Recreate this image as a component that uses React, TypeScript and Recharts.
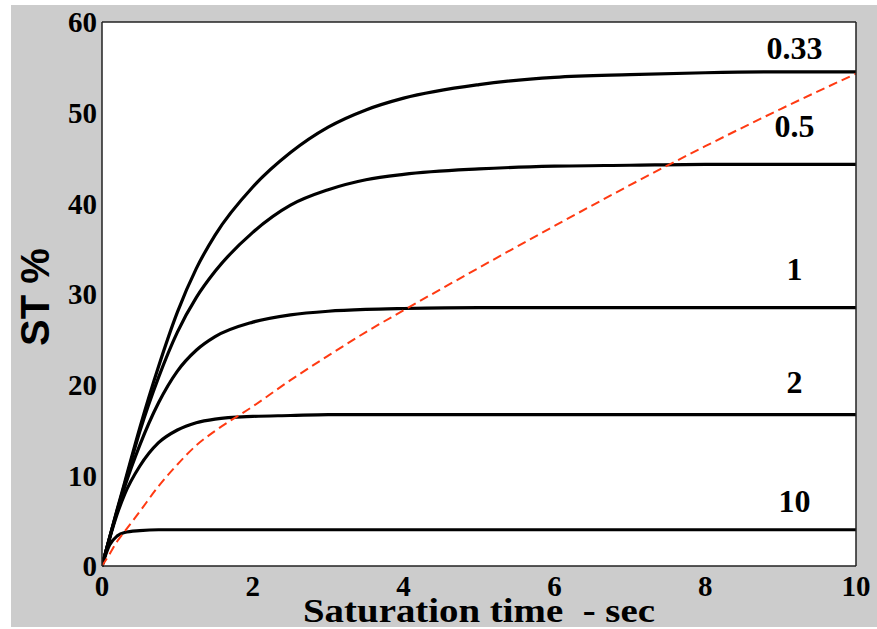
import React from 'react';
import {
    LineChart, Line, XAxis, YAxis, CartesianGrid, LabelList, Label
} from 'recharts';

// saturation time (sec)
const times = [0, 0.1, 0.2, 0.3, 0.5, 0.75, 1, 1.25, 1.5, 2, 2.5, 3, 3.5, 4, 5, 6, 7, 8, 9, 10];

// ST % for each ratio
const st033 = [0, 3.1, 6.2, 9.2, 15.2, 22.0, 28.0, 32.8, 36.5, 41.8, 45.6, 48.4, 50.3, 51.6, 53.1, 53.9, 54.2, 54.4, 54.5, 54.5];
const st05 = [0, 3.1, 6.1, 9.0, 14.8, 20.8, 25.8, 29.6, 32.5, 36.8, 39.8, 41.5, 42.6, 43.2, 43.8, 44.1, 44.2, 44.3, 44.3, 44.3];
const st1 = [0, 3.1, 6.0, 8.7, 13.3, 18.0, 21.5, 23.8, 25.3, 26.9, 27.7, 28.1, 28.3, 28.4, 28.5, 28.5, 28.5, 28.5, 28.5, 28.5];
const st2 = [0, 3.0, 5.7, 7.9, 11.0, 13.6, 15.0, 15.8, 16.2, 16.5, 16.6, 16.7, 16.7, 16.7, 16.7, 16.7, 16.7, 16.7, 16.7, 16.7];
const st10 = [0, 2.3, 3.3, 3.7, 3.9, 4.0, 4.0, 4.0, 4.0, 4.0, 4.0, 4.0, 4.0, 4.0, 4.0, 4.0, 4.0, 4.0, 4.0, 4.0];
const envelope = [0, 1.3, 2.7, 3.8, 6.0, 8.8, 11.2, 13.3, 14.9, 17.6, 20.5, 23.2, 25.8, 28.2, 32.9, 37.5, 42.0, 46.3, 50.4, 54.3];

const seriesKeys = ['s033', 's05', 's1', 's2', 's10'];
const seriesNames = ['0.33', '0.5', '1', '2', '10'];
const seriesValues = [st033, st05, st1, st2, st10];

const xTicks = [0, 2, 4, 6, 8, 10];
const yTicks = [0, 10, 20, 30, 40, 50, 60];

const data = times.map((t, i) => {
    const row: Record<string, number> = { t, env: envelope[i] };
    seriesKeys.forEach((k, j) => { row[k] = seriesValues[j][i]; });
    return row;
});

const serif = '"Times New Roman", "Liberation Serif", serif';
const tickStyle = { fontFamily: serif, fontWeight: 700, fontSize: 29, fill: '#000' };
const borderColor = '#222';

// label offsets above each curve (px)
const labelLift = [13, 27, 28, 22, 18];
const labelIndex = 18;

const curveLabel = (name: string, lift: number) => (props: any) => {
    const { x, y, index } = props;
    if (index !== labelIndex) return null;
    return (
        <text x={x + 14} y={y - lift} textAnchor="middle" fontFamily={serif}
            fontWeight={700} fontSize={32} fill="#000">{name}</text>
    );
};

export default function App() {
    return (
        <div style={{ position: 'absolute', left: 0, top: 0, width: 877, height: 629, background: '#fff' }}>
            <div style={{ position: 'absolute', left: 11, top: 5, width: 866, height: 622, background: '#cccccc' }} />
            <div style={{ position: 'absolute', left: 0, top: 0 }}>
                <LineChart width={877} height={629} data={data}
                    margin={{ top: 22, right: 21, bottom: 23, left: 42 }}>
                    <CartesianGrid horizontal={false} vertical={false} fill="#ffffff" stroke="none"
                        xAxisId="b" yAxisId="l" />
                    <XAxis xAxisId="b" dataKey="t" type="number" domain={[0, 10]} ticks={xTicks}
                        orientation="bottom" height={40} tickSize={0} tickMargin={9} tickLine={false}
                        axisLine={{ stroke: borderColor, strokeWidth: 1.5 }} tick={tickStyle}
                        allowDataOverflow>
                        <Label content={(p: any) => {
                            const vb = p.viewBox;
                            return (
                                <text x={vb.x + vb.width / 2} y={622} textAnchor="middle" fontFamily={serif}
                                    fontWeight={700} fontSize={33} fill="#000" xmlSpace="preserve"
                                    textLength={352} lengthAdjust="spacingAndGlyphs">Saturation time  - sec</text>
                            );
                        }} />
                    </XAxis>
                    <XAxis xAxisId="bm" dataKey="t" type="number" domain={[0, 10]} ticks={xTicks}
                        orientation="bottom" mirror tick={false} tickSize={7} axisLine={false}
                        tickLine={{ stroke: borderColor, strokeWidth: 1.2 }} />
                    <XAxis xAxisId="tm" dataKey="t" type="number" domain={[0, 10]} ticks={xTicks}
                        orientation="top" mirror tick={false} tickSize={7}
                        axisLine={{ stroke: borderColor, strokeWidth: 1.5 }}
                        tickLine={{ stroke: borderColor, strokeWidth: 1.2 }} />
                    <YAxis yAxisId="l" type="number" domain={[0, 60]} ticks={yTicks} orientation="left"
                        width={60} tickSize={0} tickMargin={5} tickLine={false}
                        axisLine={{ stroke: borderColor, strokeWidth: 1.5 }} tick={tickStyle}>
                        <Label content={(p: any) => {
                            const vb = p.viewBox;
                            const cy = vb.y + vb.height / 2 + 3;
                            return (
                                <text x={35} y={cy} transform={`rotate(-90, 35, ${cy})`} textAnchor="middle"
                                    dominantBaseline="central" fontFamily='Arial, "Liberation Sans", sans-serif'
                                    fontWeight={700} fontSize={40} fill="#000">ST %</text>
                            );
                        }} />
                    </YAxis>
                    <YAxis yAxisId="lm" type="number" domain={[0, 60]} ticks={yTicks} orientation="left"
                        mirror tick={false} tickSize={7} axisLine={false}
                        tickLine={{ stroke: borderColor, strokeWidth: 1.2 }} />
                    <YAxis yAxisId="rm" type="number" domain={[0, 60]} ticks={yTicks} orientation="right"
                        mirror tick={false} tickSize={7}
                        axisLine={{ stroke: borderColor, strokeWidth: 1.5 }}
                        tickLine={{ stroke: borderColor, strokeWidth: 1.2 }} />

                    {seriesKeys.map((k, j) => (
                        <Line key={k} xAxisId="b" yAxisId="l" dataKey={k} type="monotone"
                            stroke="#000" strokeWidth={3.2} dot={false} isAnimationActive={false}>
                            <LabelList dataKey={k} content={curveLabel(seriesNames[j], labelLift[j])} />
                        </Line>
                    ))}
                    <Line xAxisId="b" yAxisId="l" dataKey="env" type="monotone" stroke="#ff3a12"
                        strokeWidth={2} strokeDasharray="9 5" dot={false} isAnimationActive={false} />
                </LineChart>
            </div>
        </div>
    );
}
